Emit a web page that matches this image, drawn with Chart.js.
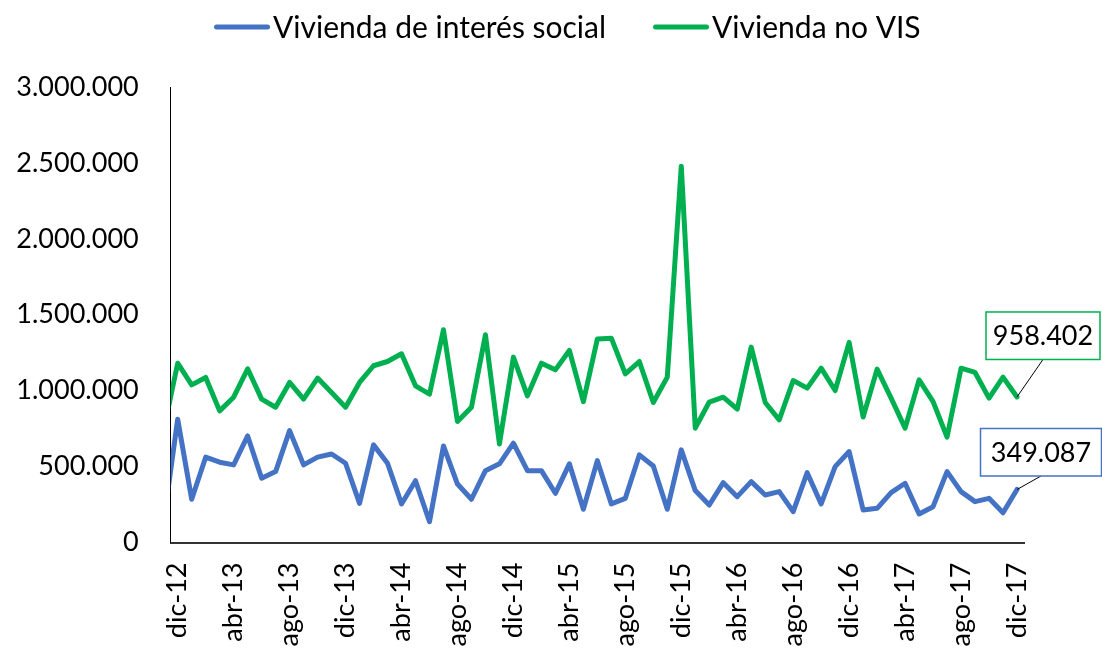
<!DOCTYPE html>
<html>
<head>
<meta charset="utf-8">
<script src="https://cdn.jsdelivr.net/npm/chart.js@4.4.1/dist/chart.umd.min.js"></script>
<style>
  html, body { margin: 0; padding: 0; background: #fff; overflow: hidden; }
  #wrap { width: 1102px; height: 650px; position: relative; }
</style>
</head>
<body>
<div id="wrap"><canvas id="myChart"></canvas></div>
<script>
// months (nov-12 sits just outside the axis and is clipped, as in the original)
const months = [
  "nov-12", "dic-12",
  "ene-13", "feb-13", "mar-13", "abr-13", "may-13", "jun-13", "jul-13", "ago-13", "sep-13", "oct-13", "nov-13", "dic-13",
  "ene-14", "feb-14", "mar-14", "abr-14", "may-14", "jun-14", "jul-14", "ago-14", "sep-14", "oct-14", "nov-14", "dic-14",
  "ene-15", "feb-15", "mar-15", "abr-15", "may-15", "jun-15", "jul-15", "ago-15", "sep-15", "oct-15", "nov-15", "dic-15",
  "ene-16", "feb-16", "mar-16", "abr-16", "may-16", "jun-16", "jul-16", "ago-16", "sep-16", "oct-16", "nov-16", "dic-16",
  "ene-17", "feb-17", "mar-17", "abr-17", "may-17", "jun-17", "jul-17", "ago-17", "sep-17", "oct-17", "nov-17", "dic-17"
];

const vis = [
  139000, 812000,
  285000, 562000, 529000, 511000, 702000, 423000, 467000, 737000, 511000, 562000, 583000, 522000,
  258000, 643000, 522000, 254000, 407000, 137000, 636000, 385000, 285000, 473000, 518000, 654000,
  473000, 473000, 324000, 518000, 219000, 539000, 254000, 291000, 577000, 504000, 219000, 610000,
  342000, 247000, 394000, 302000, 401000, 313000, 335000, 203000, 460000, 254000, 500000, 599000,
  214000, 225000, 328000, 390000, 188000, 236000, 467000, 335000, 269000, 291000, 196000, 349087
];

const noVis = [
  742000, 1181000,
  1038000, 1087000, 867000, 957000, 1144000, 944000, 891000, 1054000, 944000, 1083000, 988000, 891000,
  1054000, 1164000, 1192000, 1243000, 1032000, 977000, 1401000, 797000, 891000, 1368000, 649000, 1221000,
  966000, 1181000, 1137000, 1265000, 928000, 1340000, 1346000, 1111000, 1192000, 922000, 1089000, 2478000,
  753000, 925000, 957000, 878000, 1287000, 922000, 808000, 1067000, 1017000, 1148000, 1001000, 1318000,
  826000, 1142000, 951000, 753000, 1071000, 928000, 694000, 1148000, 1120000, 951000, 1089000, 958402
];

// x tick labels: every 4 months from dic-12
const tickLabels = ["dic-12", "abr-13", "ago-13", "dic-13", "abr-14", "ago-14", "dic-14", "abr-15",
  "ago-15", "dic-15", "abr-16", "ago-16", "dic-16", "abr-17", "ago-17", "dic-17"];

const yTicks = [0, 500000, 1000000, 1500000, 2000000, 2500000, 3000000];

const FONT = "Lato";
const FS = 27;
const LEGEND_FS = 30;

function fmt(v) {
  return String(v).replace(/\B(?=(\d{3})+(?!\d))/g, ".");
}

// x position: index in months minus one, so dic-12 = 0
function toPoints(arr) {
  return arr.map((v, i) => ({ x: i - 1, y: v }));
}

// legend drawn by hand: short thick line, then the name
const lineLegend = {
  id: "lineLegend",
  afterDraw(chart) {
    const ctx = chart.ctx;
    let x = 214;
    const y = 27;
    ctx.save();
    ctx.font = LEGEND_FS + "px " + FONT;
    ctx.textBaseline = "alphabetic";
    ctx.textAlign = "left";
    chart.data.datasets.forEach(ds => {
      ctx.strokeStyle = ds.borderColor;
      ctx.lineWidth = 5;
      ctx.lineCap = "round";
      ctx.beginPath();
      ctx.moveTo(x + 2.5, y);
      ctx.lineTo(x + 53.5, y);
      ctx.stroke();
      x += 59;
      ctx.fillStyle = "#000";
      ctx.fillText(ds.label, x, y + 11);
      x += ctx.measureText(ds.label).width + 47;
    });
    ctx.restore();
  }
};

// boxes with the last value of each series
const lastLabel = {
  id: "lastLabel",
  afterDatasetsDraw(chart) {
    const ctx = chart.ctx;
    const boxes = [
      { ds: 1, dx: -31, dy: -85, w: 114, h: 47.5 },
      { ds: 0, dx: -36.5, dy: -61, w: 121, h: 47.5 }
    ];
    boxes.forEach(b => {
      const meta = chart.getDatasetMeta(b.ds);
      const pt = meta.data[meta.data.length - 1];
      const dsData = chart.data.datasets[b.ds];
      const val = dsData.data[dsData.data.length - 1].y;
      const left = pt.x + b.dx, top = pt.y + b.dy;
      ctx.save();
      // leader line
      ctx.strokeStyle = "#000";
      ctx.lineWidth = 1;
      ctx.beginPath();
      ctx.moveTo(pt.x, pt.y);
      ctx.lineTo(left + b.w * 0.5, top + b.h);
      ctx.stroke();
      ctx.fillStyle = "#fff";
      ctx.fillRect(left, top, b.w, b.h);
      ctx.strokeStyle = dsData.borderColor;
      ctx.lineWidth = 1.5;
      ctx.strokeRect(left, top, b.w, b.h);
      ctx.fillStyle = "#000";
      ctx.font = FS + "px " + FONT;
      ctx.textAlign = "center";
      ctx.textBaseline = "middle";
      ctx.fillText(fmt(val), left + b.w / 2, top + b.h / 2 + 1);
      ctx.restore();
    });
  }
};

const ctx = document.getElementById("myChart");

new Chart(ctx, {
  type: "line",
  data: {
    datasets: [{
      label: "Vivienda de interés social",
      data: toPoints(vis),
      borderColor: "#4472C4",
      backgroundColor: "#4472C4",
      borderWidth: 5,
      pointRadius: 0,
      tension: 0,
      borderJoinStyle: "round",
      borderCapStyle: "round"
    }, {
      label: "Vivienda no VIS",
      data: toPoints(noVis),
      borderColor: "#00B050",
      backgroundColor: "#00B050",
      borderWidth: 5,
      pointRadius: 0,
      tension: 0,
      borderJoinStyle: "round",
      borderCapStyle: "round"
    }]
  },
  options: {
    responsive: true,
    maintainAspectRatio: false,
    animation: false,
    layout: { padding: { top: 87, right: 78, left: 0, bottom: 0 } },
    plugins: {
      legend: { display: false },
      tooltip: { enabled: false }
    },
    scales: {
      x: {
        type: "linear",
        min: -0.5,
        max: 60.5,
        grid: { display: false, drawTicks: false },
        border: { display: true, color: "#333", width: 2 },
        afterBuildTicks: s => {
          s.ticks = tickLabels.map(l => ({ value: months.indexOf(l) - 1 }));
        },
        afterFit: s => { s.height = 107.5; },
        ticks: {
          minRotation: 90,
          maxRotation: 90,
          autoSkip: false,
          padding: 20,
          color: "#000",
          font: { family: FONT, size: FS },
          callback: v => months[v + 1]
        }
      },
      y: {
        min: 0,
        max: 3000000,
        grid: { display: false, drawTicks: false },
        border: { display: true, color: "#000", width: 1 },
        afterBuildTicks: s => { s.ticks = yTicks.map(v => ({ value: v })); },
        afterFit: s => { s.width = 170.7; },
        ticks: {
          padding: 32,
          color: "#000",
          font: { family: FONT, size: FS },
          callback: v => fmt(v)
        }
      }
    }
  },
  plugins: [lastLabel, lineLegend]
});
</script>
</body>
</html>
